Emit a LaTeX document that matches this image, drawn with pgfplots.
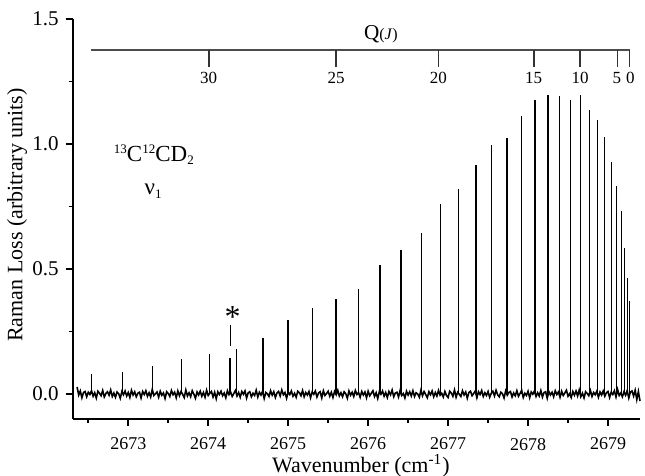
\documentclass[border=0pt]{standalone}
\usepackage{fontspec}
\setmainfont{Liberation Serif}
\usepackage{pgfplots}
\pgfplotsset{compat=1.18}
\begin{document}
\begin{tikzpicture}
\begin{axis}[name=ax,
 scale only axis, width=283.65pt, height=200pt,
 xmin=2672.305, xmax=2679.40, ymin=-0.1, ymax=1.5,
 axis lines*=left,
 axis line style={line width=0.9pt},
 every tick/.style={black, line width=0.9pt},
 tick align=outside,
 major tick length=3.5pt, minor tick length=2pt,
 xtick={2673,2674,2675,2676,2677,2678,2679},
 minor xtick={2672.5,2673.5,2674.5,2675.5,2676.5,2677.5,2678.5},
 ytick={0,0.5,1,1.5},
 minor ytick={0.25,0.75,1.25},
 /pgf/number format/assume math mode=true,
 /pgf/number format/1000 sep={},
 xticklabel style={font=\fontsize{9}{10}\selectfont, yshift=-2.5pt},
 yticklabel style={font=\fontsize{10.5}{11}\selectfont, /pgf/number format/fixed, /pgf/number format/fixed zerofill, /pgf/number format/precision=1},
 xlabel={Wavenumber (cm\textsuperscript{-1})},
 ylabel={Raman Loss (arbitrary units)},
 label style={font=\fontsize{11}{13}\selectfont, inner sep=1pt},
 xlabel style={at={(axis description cs:0.508,-0.118)}, anchor=center},
 ylabel style={at={(axis description cs:-0.098,0.51)}, anchor=center},
 clip=false,
]
\addplot[black, line width=0.8pt, no marks] coordinates {
(2672.36,.028) (2672.38,-.004) (2672.40,.012) (2672.42,-.015) (2672.44,.006) (2672.46,.010) (2672.48,-.011) (2672.50,.007) (2672.52,-.002) (2672.54,.013)
(2672.56,-.009) (2672.58,.005) (2672.60,-.016) (2672.62,.011) (2672.64,.003) (2672.66,-.007) (2672.68,.014) (2672.70,-.012) (2672.72,.002) (2672.74,.009)
(2672.76,-.005) (2672.78,.016) (2672.80,-.010) (2672.82,.004) (2672.84,-.013) (2672.86,.008) (2672.88,.001) (2672.90,-.017) (2672.92,.010) (2672.94,-.003)
(2672.96,.012) (2672.98,-.008) (2673.00,.006) (2673.02,-.014) (2673.04,.015) (2673.06,-.004) (2673.08,.009) (2673.10,-.011) (2673.12,.003) (2673.14,.007)
(2673.16,-.016) (2673.18,.010) (2673.20,-.002) (2673.22,.013) (2673.24,-.009) (2673.26,.005) (2673.28,-.012) (2673.30,.018) (2673.32,-.006) (2673.34,.001)
(2673.36,.008) (2673.38,-.013) (2673.40,.011) (2673.42,-.005) (2673.44,.004) (2673.46,-.018) (2673.48,.009) (2673.50,.002) (2673.52,-.010) (2673.54,.014)
(2673.56,-.003) (2673.58,.007) (2673.60,-.015) (2673.62,.012) (2673.64,-.007) (2673.66,.010) (2673.68,-.001) (2673.70,-.014) (2673.72,.016) (2673.74,-.008)
(2673.76,.005) (2673.78,-.011) (2673.80,.013) (2673.82,.000) (2673.84,-.017) (2673.86,.008) (2673.88,-.004) (2673.90,.011) (2673.92,-.009) (2673.94,.006)
(2673.96,-.013) (2673.98,.015) (2674.00,-.006) (2674.02,.003) (2674.04,.010) (2674.06,-.012) (2674.08,.007) (2674.10,-.019) (2674.12,.009) (2674.14,-.002)
(2674.16,.011) (2674.18,-.007) (2674.20,.004) (2674.22,-.015) (2674.24,.013) (2674.26,-.003) (2674.28,.008) (2674.30,-.010) (2674.32,.002) (2674.34,.014)
(2674.36,-.008) (2674.38,.006) (2674.40,-.013) (2674.42,.010) (2674.44,-.001) (2674.46,.012) (2674.48,-.016) (2674.50,.005) (2674.52,.009) (2674.54,-.011)
(2674.56,.003) (2674.58,-.006) (2674.60,.015) (2674.62,-.012) (2674.64,.007) (2674.66,-.004) (2674.68,.011) (2674.70,-.018) (2674.72,.006) (2674.74,.001)
(2674.76,-.010) (2674.78,.013) (2674.80,-.005) (2674.82,.009) (2674.84,-.014) (2674.86,.004) (2674.88,.010) (2674.90,-.008) (2674.92,.016) (2674.94,-.003)
(2674.96,.006) (2674.98,-.017) (2675.00,.008) (2675.02,-.002) (2675.04,.012) (2675.06,-.009) (2675.08,.003) (2675.10,-.013) (2675.12,.011) (2675.14,.005)
(2675.16,-.007) (2675.18,.014) (2675.20,-.011) (2675.22,.006) (2675.24,-.004) (2675.26,.010) (2675.28,-.015) (2675.30,.008) (2675.32,-.001) (2675.34,.012)
(2675.36,-.012) (2675.38,.004) (2675.40,.009) (2675.42,-.016) (2675.44,.013) (2675.46,-.006) (2675.48,.002) (2675.50,.011) (2675.52,-.009) (2675.54,.007)
(2675.56,-.014) (2675.58,.010) (2675.60,-.003) (2675.62,.015) (2675.64,-.008) (2675.66,.005) (2675.68,-.011) (2675.70,.009) (2675.72,.001) (2675.74,-.017)
(2675.76,.012) (2675.78,-.005) (2675.80,.007) (2675.82,-.010) (2675.84,.014) (2675.86,-.002) (2675.88,.006) (2675.90,-.013) (2675.92,.010) (2675.94,-.004)
(2675.96,.008) (2675.98,-.015) (2676.00,.011) (2676.02,-.007) (2676.04,.003) (2676.06,.013) (2676.08,-.010) (2676.10,.005) (2676.12,-.018) (2676.14,.009)
(2676.16,-.001) (2676.18,.012) (2676.20,-.009) (2676.22,.006) (2676.24,-.014) (2676.26,.010) (2676.28,-.003) (2676.30,.016) (2676.32,-.011) (2676.34,.004)
(2676.36,.007) (2676.38,-.012) (2676.40,.014) (2676.42,-.006) (2676.44,.002) (2676.46,-.016) (2676.48,.011) (2676.50,-.004) (2676.52,.009) (2676.54,-.008)
(2676.56,.013) (2676.58,-.010) (2676.60,.005) (2676.62,.000) (2676.64,-.013) (2676.66,.015) (2676.68,-.007) (2676.70,.010) (2676.72,-.002) (2676.74,-.015)
(2676.76,.009) (2676.78,-.003) (2676.80,.012) (2676.82,-.011) (2676.84,.006) (2676.86,-.008) (2676.88,.014) (2676.90,-.005) (2676.92,.003) (2676.94,-.012)
(2676.96,.010) (2676.98,-.006) (2677.00,-.014) (2677.02,.011) (2677.04,.004) (2677.06,-.009) (2677.08,.016) (2677.10,-.013) (2677.12,.007) (2677.14,-.001)
(2677.16,-.010) (2677.18,.013) (2677.20,-.004) (2677.22,.008) (2677.24,-.017) (2677.26,.006) (2677.28,.011) (2677.30,-.007) (2677.32,.002) (2677.34,.012)
(2677.36,-.015) (2677.38,.009) (2677.40,-.002) (2677.42,.014) (2677.44,-.010) (2677.46,.005) (2677.48,-.006) (2677.50,.010) (2677.52,-.013) (2677.54,.003)
(2677.56,.011) (2677.58,-.008) (2677.60,.015) (2677.62,-.003) (2677.64,-.011) (2677.66,.007) (2677.68,.001) (2677.70,-.016) (2677.72,.012) (2677.74,-.005)
(2677.76,.006) (2677.78,.010) (2677.80,-.012) (2677.82,.004) (2677.84,-.007) (2677.86,.013) (2677.88,-.009) (2677.90,.002) (2677.92,.015) (2677.94,-.014)
(2677.96,.003) (2677.98,-.006) (2678.00,.011) (2678.02,-.015) (2678.04,.008) (2678.06,-.001) (2678.08,.012) (2678.10,-.010) (2678.12,.005) (2678.14,-.008)
(2678.16,.014) (2678.18,-.012) (2678.20,.006) (2678.22,.009) (2678.24,-.017) (2678.26,.010) (2678.28,-.004) (2678.30,.007) (2678.32,-.011) (2678.34,.013)
(2678.36,-.002) (2678.38,.008) (2678.40,-.013) (2678.42,.011) (2678.44,-.006) (2678.46,.004) (2678.48,.015) (2678.50,-.009) (2678.52,.001) (2678.54,-.014)
(2678.56,.010) (2678.58,-.005) (2678.60,.012) (2678.62,-.008) (2678.64,.016) (2678.66,-.011) (2678.68,.003) (2678.70,-.016) (2678.72,.009) (2678.74,.002)
(2678.76,-.007) (2678.78,.014) (2678.80,-.010) (2678.82,.006) (2678.84,-.003) (2678.86,.011) (2678.88,-.013) (2678.90,.008) (2678.92,-.004) (2678.94,.012)
(2678.96,-.009) (2678.98,.005) (2679.00,.010) (2679.02,-.014) (2679.04,.007) (2679.06,-.002) (2679.08,.013) (2679.10,-.012) (2679.12,.018) (2679.14,-.006)
(2679.16,.004) (2679.18,-.011) (2679.20,.009) (2679.22,-.005) (2679.24,.014) (2679.26,-.016) (2679.28,.008) (2679.30,.012) (2679.32,-.008) (2679.34,.015)
(2679.36,-.022) (2679.38,.010) (2679.40,-.028)
};
\addplot[ycomb, no marks, black, line width=0.75pt] coordinates {
(2672.543,0.080) (2672.925,0.087) (2673.300,0.112) (2673.668,0.141) (2674.013,0.161)
(2674.271,0.144) (2674.355,0.179) (2674.684,0.225) (2675.000,0.296) (2675.305,0.343)
(2675.600,0.379) (2675.880,0.419) (2676.150,0.516) (2676.413,0.576) (2676.668,0.643)
(2676.905,0.759) (2677.130,0.819) (2677.346,0.917) (2677.543,0.995) (2677.734,1.025)
(2677.921,1.113) (2678.088,1.175) (2678.250,1.197) (2678.396,1.191) (2678.534,1.175)
(2678.655,1.196) (2678.768,1.135) (2678.871,1.096) (2678.959,1.028) (2679.043,0.929)
(2679.109,0.830) (2679.168,0.732) (2679.209,0.583) (2679.243,0.463) (2679.268,0.372)
};
% Q(J) scale
\draw[line width=0.9pt, black!70] (axis cs:2672.535,1.376) -- (axis cs:2679.28,1.376);
\draw[line width=0.9pt, black!80] (axis cs:2674.005,1.376) -- (axis cs:2674.005,1.308);
\draw[line width=0.9pt, black!80] (axis cs:2675.600,1.376) -- (axis cs:2675.600,1.308);
\draw[line width=0.9pt, black!80] (axis cs:2676.880,1.376) -- (axis cs:2676.880,1.308);
\draw[line width=0.9pt, black!80] (axis cs:2678.070,1.376) -- (axis cs:2678.070,1.308);
\draw[line width=0.9pt, black!80] (axis cs:2678.650,1.376) -- (axis cs:2678.650,1.308);
\draw[line width=0.9pt, black!80] (axis cs:2679.120,1.376) -- (axis cs:2679.120,1.308);
\draw[line width=0.9pt, black!80] (axis cs:2679.270,1.376) -- (axis cs:2679.270,1.308);
\node[font=\fontsize{8.5}{10}\selectfont] at (axis cs:2674.005,1.264) {30};
\node[font=\fontsize{8.5}{10}\selectfont] at (axis cs:2675.600,1.264) {25};
\node[font=\fontsize{8.5}{10}\selectfont] at (axis cs:2676.880,1.264) {20};
\node[font=\fontsize{8.5}{10}\selectfont] at (axis cs:2678.070,1.264) {15};
\node[font=\fontsize{8.5}{10}\selectfont] at (axis cs:2678.650,1.264) {10};
\node[font=\fontsize{8.5}{10}\selectfont] at (axis cs:2679.110,1.264) {5};
\node[font=\fontsize{8.5}{10}\selectfont] at (axis cs:2679.280,1.264) {0};
\node[font=\fontsize{10.6}{12}\selectfont] at (axis cs:2676.16,1.44) {Q{\fontsize{8}{9}\selectfont(\textit{J})}};
% asterisk
\draw[line width=0.8pt] (axis cs:2674.28,0.192) -- (axis cs:2674.28,0.276);
\node[font=\fontsize{16}{16}\selectfont, yshift=-2.5pt] at (axis cs:2674.305,0.329) {*};
% species label
\node[font=\fontsize{11.5}{13}\selectfont] at (axis cs:2673.32,0.956) {\raisebox{0.72ex}{\fontsize{6.5}{7}\selectfont 13}C\raisebox{0.72ex}{\fontsize{6.5}{7}\selectfont 12}CD\raisebox{-0.35ex}{\fontsize{6.5}{7}\selectfont 2}};
\node[font=\fontsize{11.5}{13}\selectfont] at (axis cs:2673.31,0.81) {ν\raisebox{-0.35ex}{\fontsize{6.5}{7}\selectfont 1}};
\end{axis}
\pgfresetboundingbox
\path ([shift={(-36.35pt,-28.5pt)}]ax.south west) rectangle ([shift={(286.15pt,209.5pt)}]ax.south west);
\end{tikzpicture}
\end{document}
